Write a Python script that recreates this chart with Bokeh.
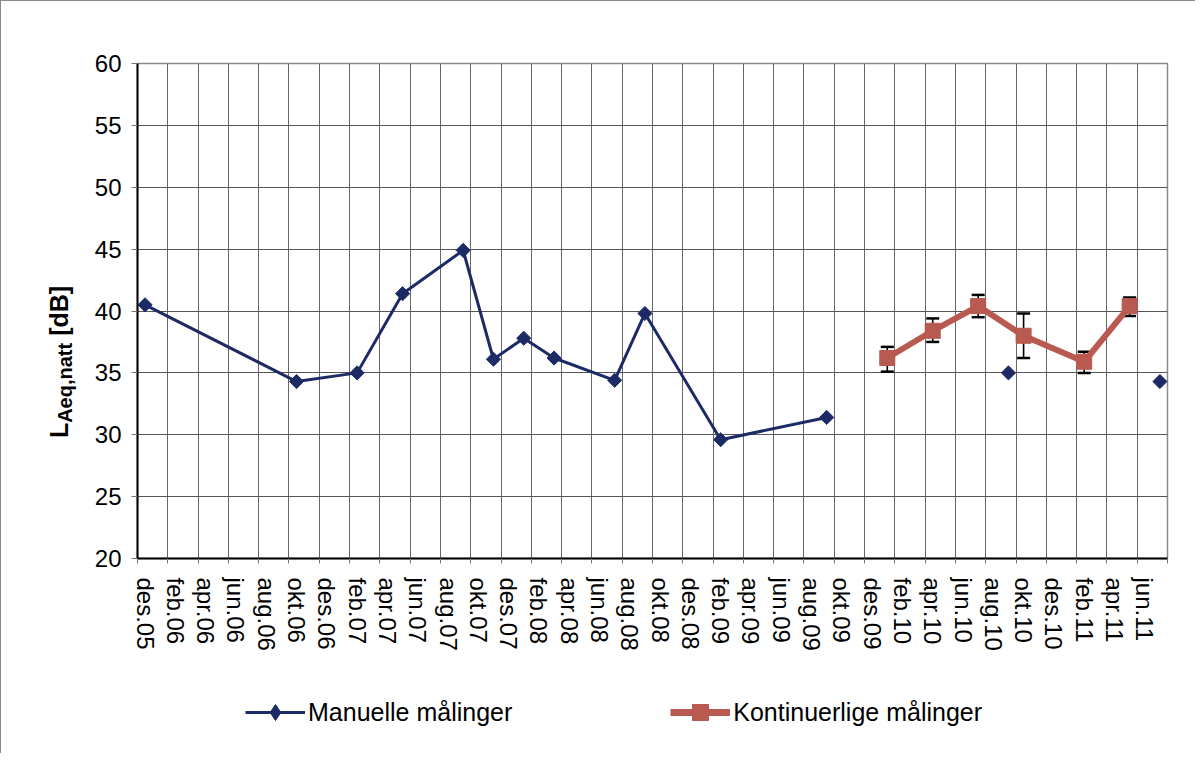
import math
from bokeh.plotting import figure
from bokeh.layouts import row, column
from bokeh.models import (Range1d, FixedTicker, Legend, LegendItem, Whisker, TeeHead,
                          ColumnDataSource, Div)
from bokeh.embed import file_html
from bokeh.resources import INLINE

# ---- data -------------------------------------------------------------
# x tick labels (every second month starting des.05)
tick_labels = ["des.05", "feb.06", "apr.06", "jun.06", "aug.06", "okt.06", "des.06",
               "feb.07", "apr.07", "jun.07", "aug.07", "okt.07", "des.07", "feb.08",
               "apr.08", "jun.08", "aug.08", "okt.08", "des.08", "feb.09", "apr.09",
               "jun.09", "aug.09", "okt.09", "des.09", "feb.10", "apr.10", "jun.10",
               "aug.10", "okt.10", "des.10", "feb.11", "apr.11", "jun.11"]

# months counted from des.05 (0 = des.05)
man_month = [0, 10, 14, 17, 21, 23, 25, 27, 31, 33, 38, 45, 57, 67]
man_val = [40.5, 34.3, 35.0, 41.4, 44.9, 36.1, 37.8, 36.2, 34.4, 39.8, 29.6, 31.4, 35.0, 34.3]
man_connected = 12  # first 12 points joined by a line

kont_month = [49, 52, 55, 58, 62, 65]
kont_val = [36.2, 38.4, 40.4, 38.0, 35.9, 40.4]
kont_lo = [35.1, 37.5, 39.5, 36.2, 35.0, 39.6]
kont_hi = [37.1, 39.4, 41.3, 39.8, 36.7, 41.1]

y_ticks = [20, 25, 30, 35, 40, 45, 50, 55, 60]

# ---- styling constants ----------------------------------------------------
FONT = "Liberation Sans"
BLUE = "#1C2B66"
RED = "#B95A50"
TW = 84            # width of the strip with the y axis title
PW = 1110          # width of the plot
PH = 674           # height of the plot
LH = 78            # height of the legend strip
n_slots = 2 * len(tick_labels)

# ---- main figure ------------------------------------------------------
p = figure(width=PW, height=PH, output_backend="svg", toolbar_location=None,
           x_range=Range1d(0, n_slots), y_range=Range1d(20, 60),
           min_border_left=52, min_border_right=28, min_border_top=62,
           min_border_bottom=PH - 62 - 495)
p.background_fill_color = "white"
p.border_fill_color = "white"
p.outline_line_color = "#8a8a8a"
p.outline_line_width = 1.5

label_pos = [2 * i + 0.5 for i in range(len(tick_labels))]
bounds = list(range(0, n_slots + 1, 2))
p.xaxis.ticker = FixedTicker(ticks=label_pos, minor_ticks=bounds)
p.xaxis.major_label_overrides = {lp: lab for lp, lab in zip(label_pos, tick_labels)}
p.xaxis.major_label_orientation = "vertical"
p.xaxis.major_tick_out = 0
p.xaxis.major_tick_in = 0
p.xaxis.minor_tick_out = 5
p.xaxis.minor_tick_in = 0
p.xaxis.minor_tick_line_color = "#777777"
p.xaxis.major_label_standoff = 14
p.xaxis.major_label_text_font = FONT
p.xaxis.major_label_text_font_size = "24px"
p.xaxis.major_label_text_color = "black"
p.xaxis.axis_line_color = "black"
p.xaxis.axis_line_width = 2

p.xgrid.ticker = FixedTicker(ticks=bounds)
p.xgrid.grid_line_color = "#666666"
p.xgrid.grid_line_width = 1

p.yaxis.ticker = FixedTicker(ticks=y_ticks)
p.yaxis.minor_tick_line_color = None
p.yaxis.major_tick_out = 6
p.yaxis.major_tick_in = 0
p.yaxis.major_tick_line_color = "#777777"
p.yaxis.major_label_standoff = 10
p.yaxis.major_label_text_font = FONT
p.yaxis.major_label_text_font_size = "24px"
p.yaxis.major_label_text_color = "black"
p.yaxis.axis_line_color = "black"
p.yaxis.axis_line_width = 2
p.ygrid.grid_line_color = "#555555"
p.ygrid.grid_line_width = 1

mx = [m + 0.5 for m in man_month]
kx = [m + 0.5 for m in kont_month]

man_style = dict(line_color=BLUE, line_width=3)
man_mark = dict(marker="square", angle=math.pi / 4, size=10, fill_color=BLUE, line_color=BLUE)
kont_style = dict(line_color=RED, line_width=6)
kont_mark = dict(marker="square", size=15, fill_color=RED, line_color=RED)

p.line(mx[:man_connected], man_val[:man_connected], **man_style)
p.scatter(mx, man_val, **man_mark)
p.line(kx, kont_val, **kont_style)
p.scatter(kx, kont_val, **kont_mark)

src = ColumnDataSource(dict(x=kx, lo=kont_lo, hi=kont_hi))
w = Whisker(source=src, base="x", lower="lo", upper="hi", dimension="height",
            line_color="black", line_width=1.6,
            upper_head=TeeHead(size=13, line_color="black", line_width=2.5),
            lower_head=TeeHead(size=13, line_color="black", line_width=2.5))
p.add_layout(w)

# ---- legend strip ---------------------------------------------------------
lg = figure(width=PW, height=LH, output_backend="svg", toolbar_location=None,
            x_range=Range1d(0, 1), y_range=Range1d(0, 1),
            x_axis_location=None, y_axis_location=None,
            min_border_left=52, min_border_right=28, min_border_top=0, min_border_bottom=0,
            outline_line_color=None)
lg.grid.visible = False
lg.background_fill_color = "white"
lg.border_fill_color = "white"
# stand-in renderers (outside the visible range) that carry the legend glyph styles
r1 = lg.line([-5, -4], [-5, -5], **man_style)
r2 = lg.scatter([-5], [-5], marker="diamond", size=16, fill_color=BLUE, line_color=BLUE)
r3 = lg.line([-5, -4], [-5, -5], line_color=RED, line_width=7)
r4 = lg.scatter([-5], [-5], **kont_mark)
legend = Legend(items=[LegendItem(label="Manuelle målinger", renderers=[r1, r2]),
                       LegendItem(label="Kontinuerlige målinger", renderers=[r3, r4])],
                orientation="horizontal", location=(245 - 137, 21),
                glyph_width=60, glyph_height=40, label_standoff=3, spacing=158,
                padding=0, margin=0, border_line_color=None, background_fill_alpha=0,
                label_text_font=FONT, label_text_font_size="25px", label_text_color="black")
lg.add_layout(legend)

# ---- y axis title (HTML text with subscript) ------------------------------
title_html = ('<div style="position:relative;width:%dpx;height:%dpx;">'
              '<div style="position:absolute;left:60px;top:361px;'
              'transform:translate(-50%%,-50%%) rotate(180deg);writing-mode:vertical-rl;'
              'white-space:nowrap;font-family:\'Liberation Sans\';font-weight:bold;'
              'font-size:25px;color:black;line-height:1;">'
              'L<sub style="font-size:20px;">Aeq,natt</sub> [dB]</div></div>') % (TW, PH + LH)
title = Div(text=title_html, width=TW, height=PH + LH, margin=0)

layout = row(title, column(p, lg, spacing=0), spacing=0,
             styles={"border-top": "1px solid #8a8a8a", "border-left": "1px solid #8a8a8a"})

open("out.html", "w").write(file_html(layout, INLINE))
